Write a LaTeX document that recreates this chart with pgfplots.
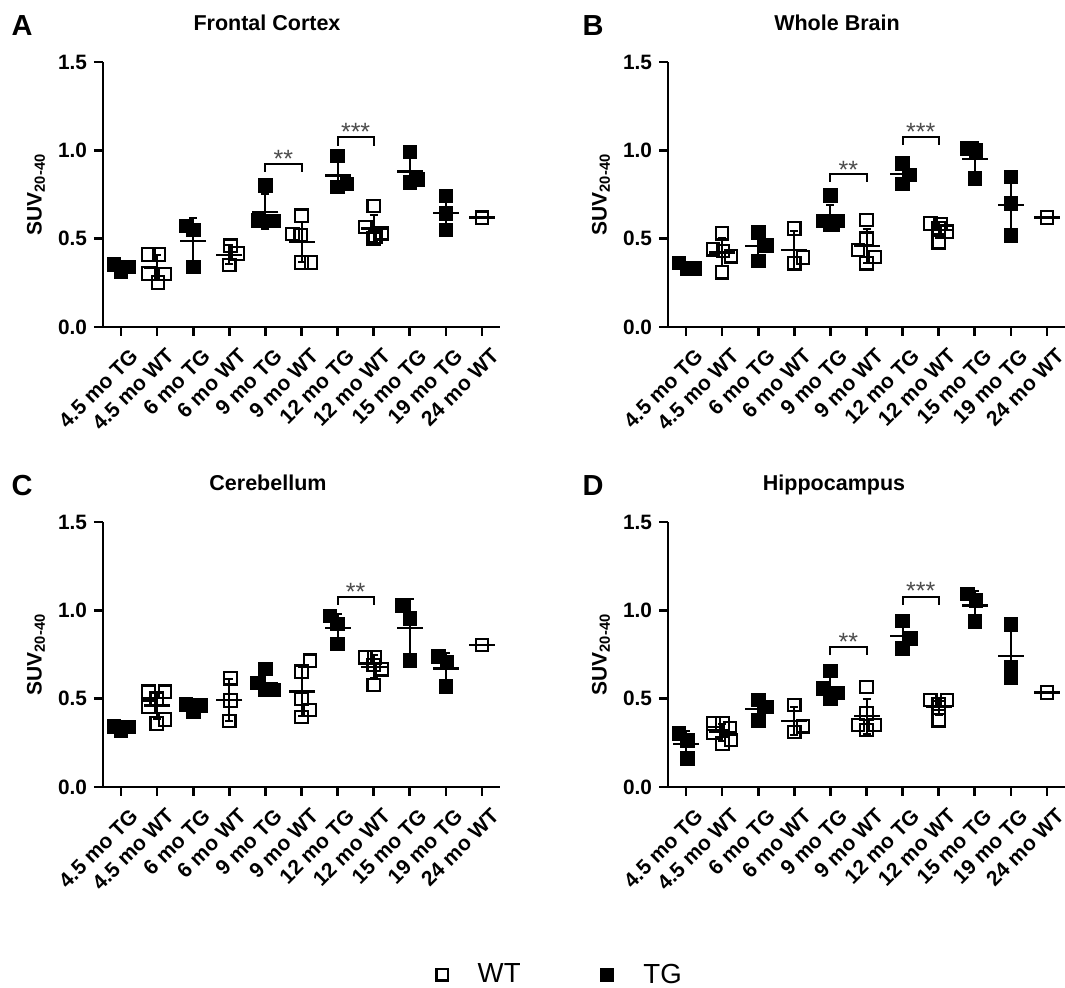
\documentclass[border=0pt]{standalone}
\usepackage{fontspec}
\setmainfont{Liberation Sans}
\usepackage{pgfplots}
\usepackage{pgfplotstable}
\pgfplotsset{compat=1.18}

% ---------- Panel A : Frontal Cortex ----------
\pgfplotstableread{
x y
-0.2 0.354
0.0 0.312
0.2 0.340
1.8 0.573
2.0 0.549
2.0 0.340
4.0 0.800
3.79 0.605
4.02 0.600
4.23 0.600
6.0 0.968
6.0 0.794
6.26 0.810
8.0 0.990
8.23 0.836
8.0 0.817
9.0 0.743
9.0 0.643
9.0 0.549
}\tgA
\pgfplotstableread{
x y
0.76 0.410
1.05 0.410
0.76 0.303
1.22 0.300
1.02 0.252
3.03 0.460
3.23 0.416
3.0 0.350
5.0 0.630
4.75 0.526
4.98 0.520
5.0 0.365
5.26 0.365
7.0 0.685
6.77 0.567
7.23 0.530
7.0 0.500
7.05 0.510
10.0 0.619
}\wtA
\pgfplotstableread{
x m s
0 0.335 0.021
1 0.335 0.071
2 0.487 0.128
3 0.409 0.055
4 0.651 0.099
5 0.481 0.115
6 0.857 0.096
7 0.558 0.075
8 0.881 0.095
9 0.645 0.097
10 0.619 0.0
}\msA

% ---------- Panel B : Whole Brain ----------
\pgfplotstableread{
x y
-0.2 0.363
0.02 0.331
0.23 0.331
2.0 0.535
2.23 0.463
2.0 0.375
4.0 0.745
3.79 0.600
4.0 0.580
4.21 0.600
4.05 0.580
6.0 0.927
6.19 0.860
6.0 0.810
7.8 1.012
8.03 1.000
8.0 0.842
9.0 0.850
9.0 0.700
9.0 0.520
}\tgB
\pgfplotstableread{
x y
1.0 0.530
0.75 0.440
1.24 0.400
1.02 0.430
1.0 0.310
3.0 0.558
3.24 0.393
3.0 0.360
5.0 0.605
5.0 0.500
4.76 0.435
5.24 0.397
5.0 0.360
6.77 0.586
7.05 0.583
7.23 0.539
7.0 0.479
7.0 0.560
10.0 0.620
}\wtB
\pgfplotstableread{
x m s
0 0.342 0.018
1 0.422 0.079
2 0.458 0.080
3 0.437 0.106
4 0.621 0.071
5 0.459 0.096
6 0.866 0.059
7 0.549 0.044
8 0.951 0.095
9 0.690 0.165
10 0.620 0.0
}\msB

% ---------- Panel C : Cerebellum ----------
\pgfplotstableread{
x y
-0.2 0.344
0.0 0.322
0.2 0.340
1.8 0.469
2.0 0.426
2.2 0.463
4.0 0.668
3.78 0.590
4.0 0.549
4.22 0.549
5.79 0.968
6.0 0.923
6.0 0.810
7.8 1.027
8.0 0.955
8.0 0.715
8.8 0.738
9.03 0.704
9.0 0.571
}\tgC
\pgfplotstableread{
x y
0.76 0.539
1.22 0.539
0.99 0.500
0.76 0.454
0.99 0.359
1.22 0.382
3.03 0.615
3.03 0.490
3.0 0.374
5.23 0.715
5.0 0.653
5.0 0.500
5.23 0.435
5.0 0.397
6.77 0.734
7.02 0.734
7.23 0.666
7.0 0.577
7.0 0.690
10.0 0.804
}\wtC
\pgfplotstableread{
x m s
0 0.335 0.012
1 0.462 0.078
2 0.453 0.023
3 0.493 0.121
4 0.589 0.056
5 0.540 0.138
6 0.900 0.081
7 0.680 0.065
8 0.899 0.163
9 0.671 0.088
10 0.804 0.0
}\msC

% ---------- Panel D : Hippocampus ----------
\pgfplotstableread{
x y
-0.2 0.303
0.03 0.265
0.03 0.161
2.0 0.492
2.23 0.454
2.0 0.378
4.0 0.658
3.79 0.558
4.21 0.533
4.0 0.500
6.0 0.940
6.23 0.842
6.0 0.785
7.8 1.093
8.03 1.055
8.0 0.936
9.0 0.920
9.0 0.680
9.0 0.620
}\tgD
\pgfplotstableread{
x y
0.76 0.359
1.01 0.359
1.22 0.331
0.76 0.306
1.01 0.246
1.24 0.265
3.0 0.463
3.24 0.344
3.0 0.312
5.0 0.567
5.0 0.416
4.76 0.350
5.24 0.350
5.0 0.322
6.77 0.492
7.23 0.492
7.0 0.470
7.0 0.450
7.0 0.378
10.0 0.535
}\wtD
\pgfplotstableread{
x m s
0 0.243 0.073
1 0.311 0.048
2 0.441 0.058
3 0.373 0.080
4 0.562 0.068
5 0.401 0.099
6 0.856 0.078
7 0.456 0.047
8 1.028 0.082
9 0.740 0.159
10 0.535 0.0
}\msD

\pgfplotsset{
  panel/.style={
    scale only axis, width=198.5pt, height=132.5pt,
    anchor=south west,
    xmin=-0.5, xmax=10.5, ymin=0, ymax=1.5,
    axis lines=left, axis line style={-, line width=1.3pt, black},
    tick align=outside, major tick length=4.5pt,
    tick style={line width=1.3pt, black},
    xtick={0,1,2,3,4,5,6,7,8,9,10},
    xticklabels={4.5 mo TG, 4.5 mo WT, 6 mo TG, 6 mo WT, 9 mo TG, 9 mo WT, 12 mo TG, 12 mo WT, 15 mo TG, 19 mo TG, 24 mo WT},
    xticklabel style={rotate=45, anchor=north east, font=\bfseries\fontsize{10.5}{11}\selectfont, inner sep=0pt, yshift=-6.5pt, xshift=-1pt},
    ytick={0,0.5,1,1.5},
    /pgf/number format/assume math mode=true,
    yticklabel style={font=\bfseries\fontsize{10.4}{12}\selectfont, /pgf/number format/.cd, fixed, fixed zerofill, precision=1},
    ylabel={SUV\textsubscript{20-40}},
    ylabel style={font=\bfseries\fontsize{10.5}{12}\selectfont, at={(axis description cs:-0.169,0.5)}, anchor=center},
    clip=false,
  },
  tg/.style={only marks, mark=square*, mark size=3.4pt, mark options={black, fill=black, line width=0.4pt}},
  wt/.style={only marks, mark=square, mark size=3.1pt, mark options={black, line width=1.1pt}},
  msd/.style={only marks, mark=-, mark size=6.5pt, mark options={black, line width=1.2pt},
    error bars/y dir=both, error bars/y explicit,
    error bars/error bar style={line width=1pt, black},
    error bars/error mark options={rotate=90, mark size=2pt, line width=1pt, black}},
}
\tikzset{
  stars/.style={font=\fontsize{12.5}{13}\selectfont, text=black!70, anchor=base, yshift=-7.3pt, inner sep=0pt},
  brk/.style={line width=1pt, black},
}

\begin{document}
\begin{tikzpicture}
\path[use as bounding box] (0,0) rectangle (532.5pt,494pt);

% titles and letters
\node[font=\bfseries\fontsize{14.5}{16}\selectfont, anchor=base] at (11pt,476pt) {A};
\node[font=\bfseries\fontsize{10.75}{12}\selectfont, anchor=base] at (133.5pt,478.5pt) {Frontal Cortex};
\node[font=\bfseries\fontsize{14.5}{16}\selectfont, anchor=base] at (296.5pt,476pt) {B};
\node[font=\bfseries\fontsize{10.75}{12}\selectfont, anchor=base] at (418.5pt,478.5pt) {Whole Brain};
\node[font=\bfseries\fontsize{14.5}{16}\selectfont, anchor=base] at (11pt,246pt) {C};
\node[font=\bfseries\fontsize{10.75}{12}\selectfont, anchor=base] at (134pt,248.5pt) {Cerebellum};
\node[font=\bfseries\fontsize{14.5}{16}\selectfont, anchor=base] at (296.5pt,246pt) {D};
\node[font=\bfseries\fontsize{10.75}{12}\selectfont, anchor=base] at (417pt,248.5pt) {Hippocampus};

% ---- A ----
\begin{axis}[panel, at={(51.5pt,330.5pt)}]
\addplot[tg] table[x=x,y=y] {\tgA};
\addplot[wt] table[x=x,y=y] {\wtA};
\addplot[msd] table[x=x,y=m,y error=s] {\msA};
\draw[brk] (axis cs:4,0.88) |- (axis cs:5,0.921) -- (axis cs:5,0.88);
\node[stars] at (axis cs:4.5,0.987) {**};
\draw[brk] (axis cs:6,1.025) |- (axis cs:7,1.074) -- (axis cs:7,1.025);
\node[stars] at (axis cs:6.5,1.139) {***};
\end{axis}

% ---- B ----
\begin{axis}[panel, at={(334pt,330.5pt)}]
\addplot[tg] table[x=x,y=y] {\tgB};
\addplot[wt] table[x=x,y=y] {\wtB};
\addplot[msd] table[x=x,y=m,y error=s] {\msB};
\draw[brk] (axis cs:4,0.822) |- (axis cs:5,0.864) -- (axis cs:5,0.822);
\node[stars] at (axis cs:4.5,0.925) {**};
\draw[brk] (axis cs:6,1.031) |- (axis cs:7,1.074) -- (axis cs:7,1.031);
\node[stars] at (axis cs:6.5,1.139) {***};
\end{axis}

% ---- C ----
\begin{axis}[panel, at={(51.5pt,100.5pt)},
  legend style={at={(axis description cs:1.154,-0.709)}, anchor=center, draw=none, fill=none,
    legend columns=2, font=\fontsize{13.8}{15}\selectfont,
    /tikz/every odd column/.append style={column sep=13pt},
    /tikz/every even column/.append style={column sep=38pt}}]
\addplot[tg, forget plot] table[x=x,y=y] {\tgC};
\addplot[wt, forget plot] table[x=x,y=y] {\wtC};
\addplot[msd, forget plot] table[x=x,y=m,y error=s] {\msC};
\draw[brk] (axis cs:6,1.031) |- (axis cs:7,1.074) -- (axis cs:7,1.031);
\node[stars] at (axis cs:6.5,1.139) {**};
\addlegendimage{only marks, mark=square, mark size=2.8pt, mark options={black, line width=1.2pt}}
\addlegendentry{WT}
\addlegendimage{only marks, mark=square*, mark size=3.2pt, mark options={black, fill=black}}
\addlegendentry{TG}
\end{axis}

% ---- D ----
\begin{axis}[panel, at={(334pt,100.5pt)}]
\addplot[tg] table[x=x,y=y] {\tgD};
\addplot[wt] table[x=x,y=y] {\wtD};
\addplot[msd] table[x=x,y=m,y error=s] {\msD};
\draw[brk] (axis cs:4,0.747) |- (axis cs:5,0.794) -- (axis cs:5,0.747);
\node[stars] at (axis cs:4.5,0.855) {**};
\draw[brk] (axis cs:6,1.031) |- (axis cs:7,1.074) -- (axis cs:7,1.031);
\node[stars] at (axis cs:6.5,1.144) {***};
\end{axis}
\end{tikzpicture}
\end{document}
